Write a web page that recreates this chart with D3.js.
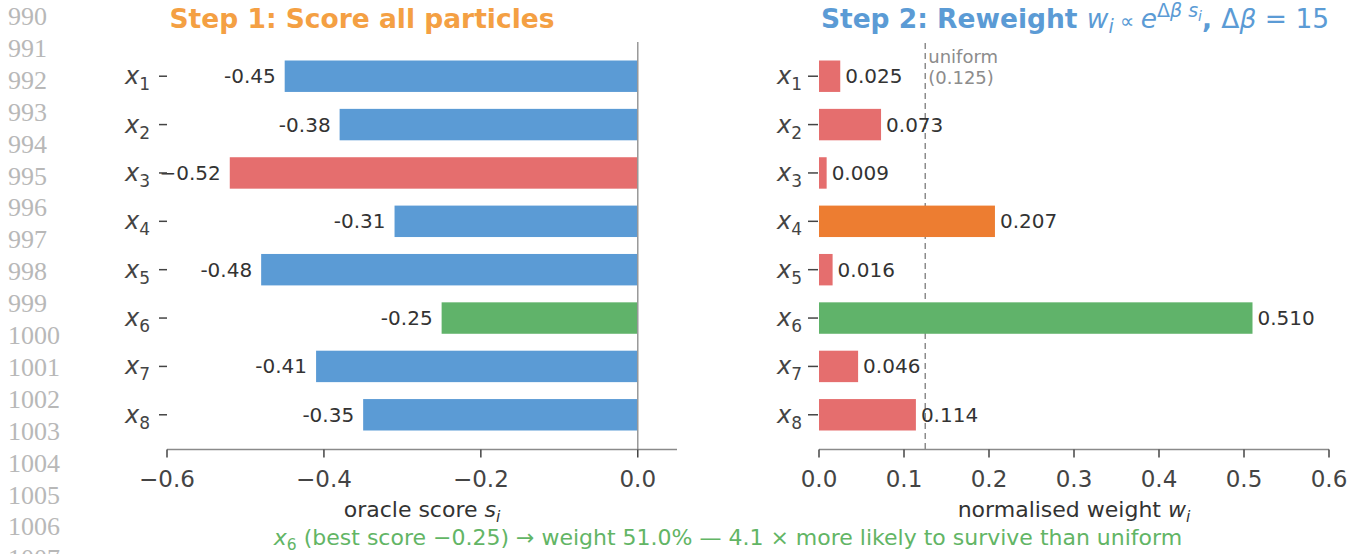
<!DOCTYPE html>
<html>
<head>
<meta charset="utf-8">
<script src="https://cdn.jsdelivr.net/npm/d3@7"></script>
<style>
  html, body { margin: 0; padding: 0; background: #fff; }
  svg { display: block; }
  text { font-family: "DejaVu Sans", sans-serif; }
</style>
</head>
<body>
<svg id="chart" width="1355" height="554"></svg>
<script>
// Particle labels and values
const particles = ["1", "2", "3", "4", "5", "6", "7", "8"];
const scores = [-0.45, -0.38, -0.52, -0.31, -0.48, -0.25, -0.41, -0.35];
const weights = [0.025, 0.073, 0.009, 0.207, 0.016, 0.510, 0.046, 0.114];
const uniformWeight = 0.125;
const scoreTicks = [-0.6, -0.4, -0.2, 0.0];
const weightTicks = [0.0, 0.1, 0.2, 0.3, 0.4, 0.5, 0.6];
const lineNumbers = d3.range(990, 1008);

const C = {
  blue: "#5b9bd5", red: "#e56e6e", green: "#60b36a", orange: "#ed7d31",
  titleOrange: "#f4a043", titleBlue: "#5b9bd5", caption: "#62b565",
  text: "#333", tick: "#444", spine: "#8a8a8a", muted: "#8c8c8c", gutter: "#b8b8b8"
};

const svg = d3.select("#chart");
const bestIdx = scores.indexOf(d3.max(scores));
const worstIdx = scores.indexOf(d3.min(scores));

// gutter numbering
svg.append("g").selectAll("text").data(lineNumbers).join("text")
  .attr("x", 8).attr("y", (d, i) => 25 + i * 31.9)
  .attr("font-size", 26)
  .attr("fill", C.gutter).style("font-family", "'Liberation Serif', serif")
  .text(d => d);

// shared vertical scale (index space)
const y = d3.scaleLinear().domain([-0.7075, 7.7075]).range([42, 449]);
const barH = y(0.65) - y(0);
const axisY = 449.5;

const xL = d3.scaleLinear().domain([-0.6, 0.05]).range([167, 677]);
const xR = d3.scaleLinear().domain([0, 0.6]).range([819, 1329]);

function yLabels(g, xRight, tickX0, tickX1) {
  const lab = g.append("g").selectAll("g").data(particles).join("g");
  lab.append("line")
    .attr("x1", tickX0).attr("x2", tickX1)
    .attr("y1", (d, i) => y(i)).attr("y2", (d, i) => y(i))
    .attr("stroke", C.tick).attr("stroke-width", 1.5);
  const t = lab.append("text")
    .attr("x", xRight).attr("y", (d, i) => y(i) + 8)
    .attr("text-anchor", "end").attr("fill", C.tick).attr("font-size", 24);
  t.append("tspan").attr("font-style", "italic").text("x");
  t.append("tspan").attr("font-size", 17).attr("dy", 6).text(d => d);
}

function xAxis(g, scale, ticks, fmt, label, labelSub) {
  const [a, b] = scale.range();
  g.append("line").attr("x1", a).attr("x2", b).attr("y1", axisY).attr("y2", axisY)
    .attr("stroke", C.spine).attr("stroke-width", 1.5);
  const tk = g.append("g").selectAll("g").data(ticks).join("g")
    .attr("transform", d => `translate(${scale(d)},0)`);
  tk.append("line").attr("y1", axisY).attr("y2", axisY + 8)
    .attr("stroke", C.tick).attr("stroke-width", 1.5);
  tk.append("text").attr("y", axisY + 37).attr("text-anchor", "middle")
    .attr("fill", C.tick).attr("font-size", 23).text(fmt);
  const lt = g.append("text").attr("x", (a + b) / 2).attr("y", 517)
    .attr("text-anchor", "middle").attr("fill", C.text).attr("font-size", 22);
  lt.append("tspan").text(label + " ");
  lt.append("tspan").attr("font-style", "italic").text(labelSub[0]);
  lt.append("tspan").attr("font-style", "italic").attr("font-size", 15.5).attr("dy", 5).text(labelSub[1]);
}

const fmtTick = v => d3.format(".1f")(v); // d3 uses the unicode minus

// ---- Left panel: oracle scores ----
const gL = svg.append("g");
gL.append("g").selectAll("rect").data(scores).join("rect")
  .attr("x", d => xL(d)).attr("width", d => xL(0) - xL(d))
  .attr("y", (d, i) => y(i) - barH / 2).attr("height", barH)
  .attr("fill", (d, i) => i === bestIdx ? C.green : (i === worstIdx ? C.red : C.blue));
gL.append("line").attr("x1", xL(0)).attr("x2", xL(0)).attr("y1", 42).attr("y2", axisY)
  .attr("stroke", "#999").attr("stroke-width", 1.5);
gL.append("g").selectAll("text").data(scores).join("text")
  .attr("x", d => xL(d) - 9).attr("y", (d, i) => y(i) + 7)
  .attr("text-anchor", "end").attr("fill", C.text).attr("font-size", 20)
  .text((d, i) => (i === worstIdx ? "\u2212" : "-") + Math.abs(d).toFixed(2));
yLabels(gL, 150, 159, 167);
xAxis(gL, xL, scoreTicks, fmtTick, "oracle score", ["s", "i"]);

gL.append("text").attr("x", 362).attr("y", 28).attr("text-anchor", "middle")
  .attr("font-size", 26.5).attr("font-weight", "bold").attr("fill", C.titleOrange)
  .text("Step 1: Score all particles");

// ---- Right panel: normalised weights ----
const gR = svg.append("g");
gR.append("line").attr("x1", xR(uniformWeight)).attr("x2", xR(uniformWeight))
  .attr("y1", 43).attr("y2", axisY)
  .attr("stroke", "#8c8c8c").attr("stroke-width", 1.5).attr("stroke-dasharray", "6,4");
gR.append("g").selectAll("rect").data(weights).join("rect")
  .attr("x", xR(0)).attr("width", d => xR(d) - xR(0))
  .attr("y", (d, i) => y(i) - barH / 2).attr("height", barH)
  .attr("fill", (d, i) => i === bestIdx ? C.green : (d === d3.max(weights.filter((w, j) => j !== bestIdx)) ? C.orange : C.red));
gR.append("g").selectAll("text").data(weights).join("text")
  .attr("x", d => xR(d) + 5).attr("y", (d, i) => y(i) + 7)
  .attr("fill", C.text).attr("font-size", 20)
  .text(d => d.toFixed(3));
gR.append("text").attr("x", xR(uniformWeight) + 3).attr("y", 63)
  .attr("fill", C.muted).attr("font-size", 18).text("uniform");
gR.append("text").attr("x", xR(uniformWeight) + 3).attr("y", 84)
  .attr("fill", C.muted).attr("font-size", 18).text(`(${uniformWeight.toFixed(3)})`);
yLabels(gR, 802, 808, 818);
xAxis(gR, xR, weightTicks, d => d.toFixed(1), "normalised weight", ["w", "i"]);

const t2 = gR.append("text").attr("x", 1075).attr("y", 28).attr("text-anchor", "middle")
  .attr("font-size", 26.5).attr("fill", C.titleBlue);
t2.append("tspan").attr("font-weight", "bold").text("Step 2: Reweight ");
t2.append("tspan").attr("font-style", "italic").text("w");
t2.append("tspan").attr("font-style", "italic").attr("font-size", 19).attr("dy", 5).text("i");
t2.append("tspan").attr("dy", -5).attr("font-size", 20).text(" \u221d ");
t2.append("tspan").attr("font-style", "italic").text("e");
t2.append("tspan").attr("font-size", 19).attr("dy", -11).text("\u0394");
t2.append("tspan").attr("font-size", 19).attr("font-style", "italic").text("\u03b2 s");
t2.append("tspan").attr("font-size", 14).attr("font-style", "italic").attr("dy", 4).text("i");
t2.append("tspan").attr("dy", 7).attr("font-weight", "bold").text(", ");
t2.append("tspan").text("\u0394");
t2.append("tspan").attr("font-style", "italic").text("\u03b2");
t2.append("tspan").text(" = 15");

// ---- Caption ----
const best = scores[bestIdx];
const wBest = weights[bestIdx];
const ratio = wBest / uniformWeight;
const cap = svg.append("text").attr("x", 728).attr("y", 545).attr("text-anchor", "middle")
  .attr("fill", C.caption).attr("font-size", 22);
cap.append("tspan").attr("font-style", "italic").text("x");
cap.append("tspan").attr("font-size", 15.5).attr("dy", 5).text(String(bestIdx + 1));
cap.append("tspan").attr("dy", -5)
  .text(` (best score \u2212${Math.abs(best).toFixed(2)}) \u2192 weight ${(wBest * 100).toFixed(1)}% \u2014 ${ratio.toFixed(1)} \u00d7 more likely to survive than uniform`);
</script>
</body>
</html>
